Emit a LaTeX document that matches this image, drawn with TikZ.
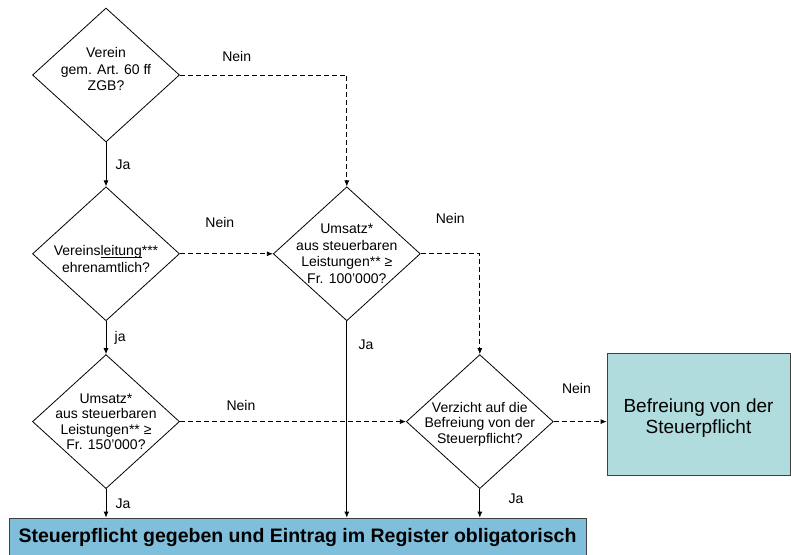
\documentclass[tikz,border=0pt]{standalone}
\usepackage{fontspec}
\setmainfont{Liberation Sans}
\usetikzlibrary{positioning, shapes.geometric, arrows.meta}

\definecolor{pflichtblue}{RGB}{127,191,219}
\definecolor{befreitteal}{RGB}{176,220,221}

\begin{document}
\begin{tikzpicture}[x=1pt, y=1pt, line width=0.8pt,
    decision/.style={diamond, draw, inner sep=-12pt, minimum width=147pt, minimum height=134pt, align=center, font=\fontsize{14}{16.5}\selectfont},
    tight/.style={font=\fontsize{14}{15.5}\selectfont},
    result/.style={rectangle, draw=black!75, align=center},
    yes/.style={-{Latex[length=6pt,width=5pt]}},
    no/.style={-{Latex[length=6pt,width=5pt]}, dash pattern=on 5pt off 3pt},
    lbl/.style={font=\fontsize{14}{16}\selectfont},
    node distance=44pt
  ]
    \useasboundingbox (0,0) rectangle (791,-554);

    \node[decision, text depth=12pt] (verein) at (106,-75) {Verein\\gem. Art. 60 ff\\ZGB?};
    \node[decision, below=of verein] (leitung) {\rule{0pt}{20.5pt}Vereins\underline{\smash{leitung}}***\\ehrenamtlich?};
    \node[decision, tight, below=33pt of leitung] (umsatzB) {Umsatz*\\aus steuerbaren\\Leistungen** ≥\\Fr. 150'000?};
    \node[decision, right=93pt of leitung] (umsatzA) {Umsatz*\\aus steuerbaren\\Leistungen** ≥\\Fr. 100'000?};
    \node[decision, tight, right=226pt of umsatzB] (verzicht) {\rule{0pt}{15.5pt}Verzicht auf die\\Befreiung von der\\Steuerpflicht?};

    \node[result, fill=befreitteal, minimum width=183pt, minimum height=122pt, font=\fontsize{19}{21}\selectfont] (befreiung) at (698.5,-414) {\rule{0pt}{22pt}Befreiung von der\\Steuerpflicht};
    \node[result, fill=pflichtblue, minimum width=577pt, minimum height=38pt, font=\bfseries\fontsize{19.5}{22}\selectfont] (pflicht) at (297.5,-537) {Steuerpflicht gegeben und Eintrag im Register obligatorisch};

    \draw[yes] (verein) -- node[lbl, right=6pt]{Ja} (leitung);
    \draw[no] (verein.east) -| node[lbl, pos=0.17, above=10pt]{Nein} (umsatzA.north);
    \draw[yes] (leitung) -- node[lbl, right=5pt]{ja} (umsatzB);
    \draw[no] (leitung) -- node[lbl, pos=0.43, above=22pt]{Nein} (umsatzA);
    \draw[no] (umsatzA.east) -| node[lbl, pos=0.25, above=26pt]{Nein} (verzicht.north);
    \draw[yes] (umsatzA.south) -- node[lbl, pos=0.12, right=8pt]{Ja} (umsatzA.south |- pflicht.north);
    \draw[no] (umsatzB) -- node[lbl, pos=0.27, above=7pt]{Nein} (verzicht);
    \draw[yes] (umsatzB.south) -- node[lbl, right=6pt]{Ja} (umsatzB.south |- pflicht.north);
    \draw[yes] (verzicht.south) -- node[lbl, pos=0.35, right=25pt]{Ja} (verzicht.south |- pflicht.north);
    \draw[no] (verzicht.east) -- node[lbl, pos=0.43, above=24pt]{Nein} (verzicht.east -| befreiung.west);
  \end{tikzpicture}
\end{document}
